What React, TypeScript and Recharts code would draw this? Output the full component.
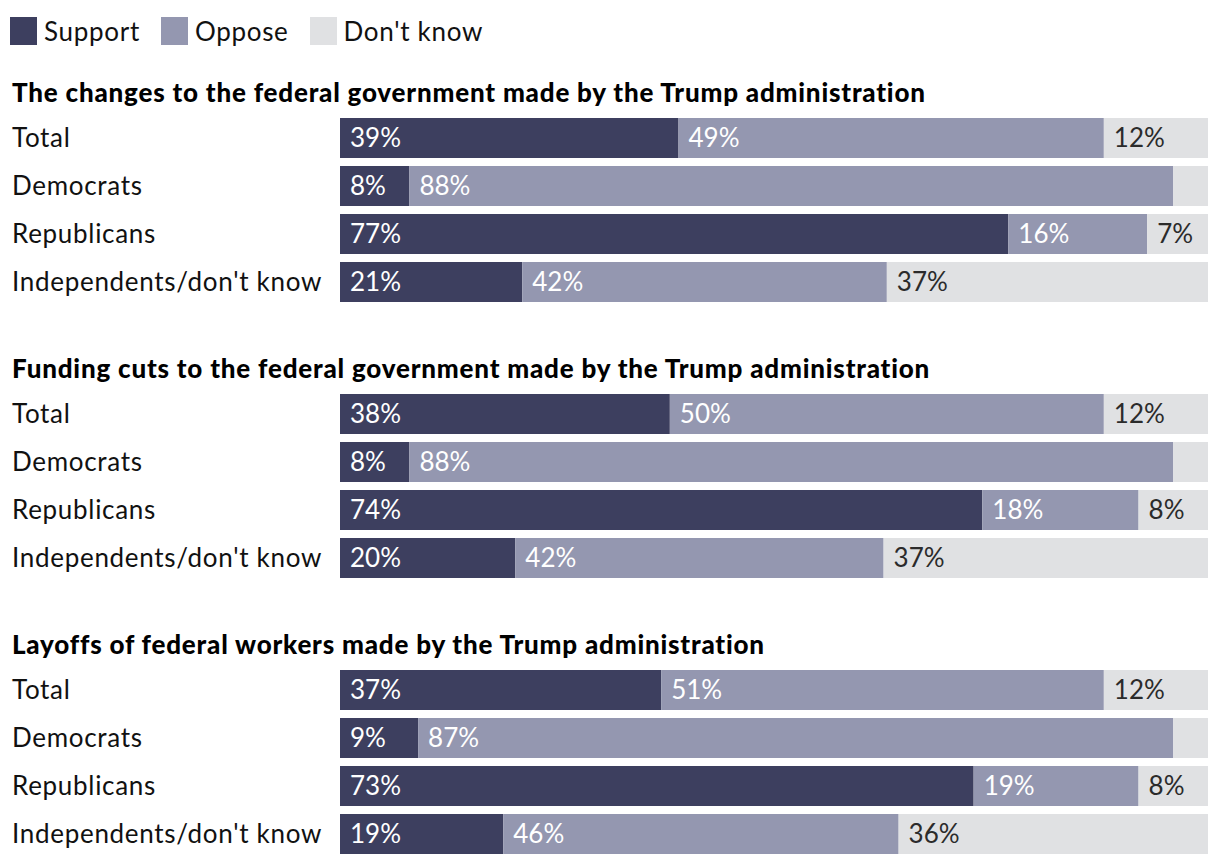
import React from "react";
import { BarChart, Bar, XAxis, YAxis, LabelList } from "recharts";

const FONT = "Lato, 'Noto Sans', sans-serif";

const titles = [
  "The changes to the federal government made by the Trump administration",
  "Funding cuts to the federal government made by the Trump administration",
  "Layoffs of federal workers made by the Trump administration",
];
const rows = ["Total", "Democrats", "Republicans", "Independents/don't know"];

// one inner array per question, in the order of `rows`
const support = [
  [39, 8, 77, 21],
  [38, 8, 74, 20],
  [37, 9, 73, 19],
];
const oppose = [
  [49, 88, 16, 42],
  [50, 88, 18, 42],
  [51, 87, 19, 46],
];
const dontKnow = [
  [12, 4, 7, 37],
  [12, 4, 8, 37],
  [12, 4, 8, 36],
];

const series = [
  { key: "support", name: "Support", color: "#3d3f5f", text: "#ffffff" },
  { key: "oppose", name: "Oppose", color: "#9497b0", text: "#ffffff" },
  { key: "dontKnow", name: "Don't know", color: "#e0e1e3", text: "#2b2b2b" },
];

const RowTick = (props: any) => {
  const { y, payload } = props;
  return (
    <text
      x={4}
      y={y}
      dy="0.36em"
      fontSize={26}
      fill="#111"
      fontFamily={FONT}
      letterSpacing={0.7}
    >
      {payload.value}
    </text>
  );
};

// small slices (the unlabeled Democrats "don't know") get no label
const pct = (v: any) => (Number(v) < 5 ? "" : `${v}%`);

const Group: React.FC<{ index: number }> = ({ index }) => {
  const data = rows.map((name, i) => ({
    name,
    support: support[index][i],
    oppose: oppose[index][i],
    dontKnow: dontKnow[index][i],
  }));

  return (
    <div style={{ marginBottom: index < titles.length - 1 ? 40 : 0 }}>
      <div
        style={{
          height: 44,
          lineHeight: "44px",
          fontSize: 26,
          fontWeight: 900,
          letterSpacing: 0.8,
          color: "#000",
          paddingLeft: 4,
          whiteSpace: "nowrap",
        }}
      >
        {titles[index]}
      </div>
      <BarChart
        width={1204}
        height={192}
        data={data}
        layout="vertical"
        stackOffset="expand"
        barSize={40}
        margin={{ top: 0, right: 4, bottom: 0, left: 0 }}
      >
        <XAxis type="number" hide domain={[0, 1]} />
        <YAxis
          type="category"
          dataKey="name"
          width={332}
          axisLine={false}
          tickLine={false}
          interval={0}
          tick={<RowTick />}
        />
        {series.map((s) => (
          <Bar
            key={s.key}
            dataKey={s.key}
            stackId="a"
            fill={s.color}
            isAnimationActive={false}
          >
            <LabelList
              dataKey={s.key}
              position="insideLeft"
              offset={10}
              fill={s.text}
              fontSize={26}
              fontFamily={FONT}
              formatter={pct}
            />
          </Bar>
        ))}
      </BarChart>
    </div>
  );
};

export default function App() {
  return (
    <div style={{ width: 1204, fontFamily: FONT, color: "#111" }}>
      <div
        style={{
          height: 62,
          display: "flex",
          alignItems: "flex-start",
          paddingTop: 9,
          boxSizing: "border-box",
        }}
      >
        {series.map((s, i) => (
          <div
            key={s.key}
            style={{ display: "flex", alignItems: "center", marginLeft: i === 0 ? 2 : 21 }}
          >
            <div style={{ width: 27, height: 28, background: s.color }} />
            <span style={{ marginLeft: 7, fontSize: 26, lineHeight: "28px", letterSpacing: 0.7 }}>
              {s.name}
            </span>
          </div>
        ))}
      </div>
      {titles.map((_, i) => (
        <Group key={i} index={i} />
      ))}
    </div>
  );
}
